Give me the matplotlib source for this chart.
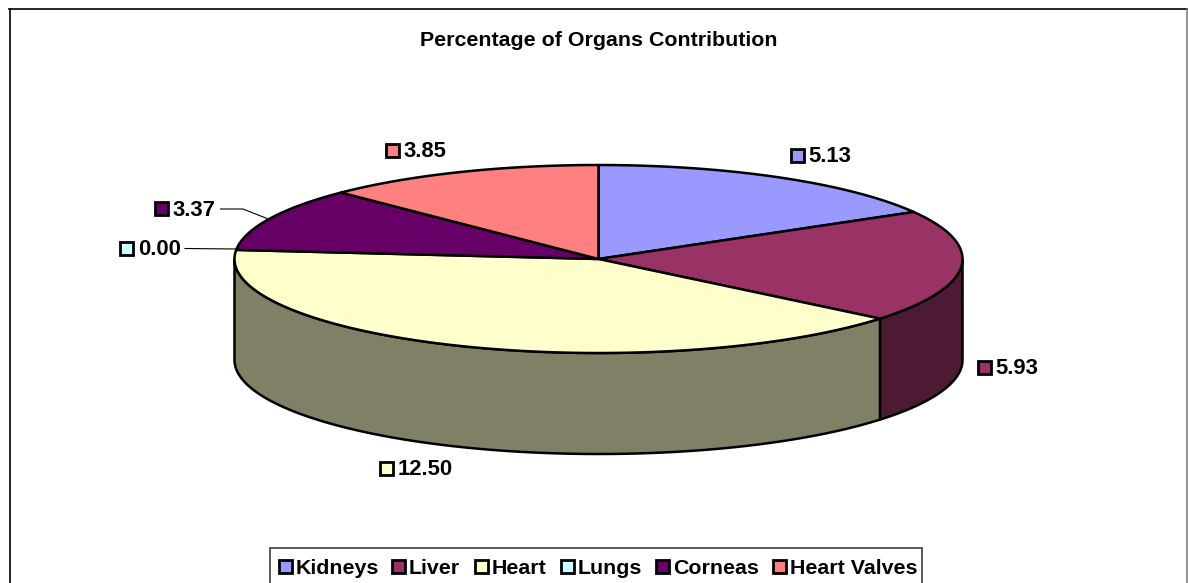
import matplotlib
matplotlib.use('Agg')
import matplotlib.pyplot as plt
from matplotlib.patches import Polygon, Rectangle
import numpy as np

plt.rcParams['font.family'] = ['Liberation Sans', 'DejaVu Sans']

organs = ['Kidneys', 'Liver', 'Heart', 'Lungs', 'Corneas', 'Heart Valves']
values = [5.13, 5.93, 12.50, 0.00, 3.37, 3.85]
top_colors = ['#9999FF', '#993366', '#FFFFCC', '#CCFFFF', '#660066', '#FF8080']
side_colors = ['#4C4C80', '#4D1A33', '#808066', '#668080', '#330033', '#804040']
title = 'Percentage of Organs Contribution'

# pie geometry in pixels
cx, cy = 598.5, 259
rx, ry = 364, 94
depth = 101

fig = plt.figure(figsize=(11.88, 5.83), dpi=100)
ax = fig.add_axes([0, 0, 1, 1])
ax.set_xlim(0, 1188)
ax.set_ylim(583, 0)
ax.axis('off')


def rim(a1, a2, dy=0):
    # angle counted clockwise from the top, in degrees
    t = np.radians(np.linspace(a1, a2, 200))
    return np.column_stack([cx + rx * np.sin(t), cy - ry * np.cos(t) + dy])


# chart frame
ax.plot([10, 10], [590, 9], color='black', lw=1.2)
ax.plot([9, 1187], [9, 9], color='black', lw=1.2)
ax.plot([1187, 1187], [9, 590], color='#808080', lw=1.2)

ax.text(599, 40.5, title, fontsize=15.4, fontweight='bold', ha='center', va='center')

angles = np.concatenate([[0], np.cumsum(values) / np.sum(values) * 360])

# sides first, only the front half is visible
for i in range(len(values)):
    a1 = max(angles[i], 90)
    a2 = min(angles[i + 1], 270)
    if a2 <= a1:
        continue
    front = rim(a1, a2)
    back = rim(a1, a2, depth)[::-1]
    ax.add_patch(Polygon(np.vstack([front, back]), closed=True, fc=side_colors[i],
                         ec='black', lw=1.8, joinstyle='round'))

# top faces
for i in range(len(values)):
    if values[i] == 0:
        continue
    pts = np.vstack([[cx, cy], rim(angles[i], angles[i + 1])])
    ax.add_patch(Polygon(pts, closed=True, fc=top_colors[i], ec='black', lw=1.8,
                         joinstyle='round'))

# leader lines
ax.plot([220.5, 243, 267], [209, 209, 218.5], color='black', lw=0.8)
ax.plot([185, 236], [248.5, 249], color='black', lw=0.8)

# data labels: key box then value
label_pos = [(797, 155.5), (984, 367.5), (386, 468), (126.5, 248), (161, 208.5), (392, 150)]
for i in range(len(values)):
    x, y = label_pos[i]
    ax.add_patch(Rectangle((x - 6.5, y - 6.5), 13, 13, fc=top_colors[i], ec='black', lw=2))
    ax.text(x + 11.5, y + 1.5, '%.2f' % values[i], fontsize=15.8, fontweight='bold',
            ha='left', va='center')

# legend
ax.add_patch(Rectangle((270, 548), 652, 50, fc='white', ec='#404040', lw=1.2, clip_on=True))
legend_x = [285, 398, 481, 567, 662.5, 779]
for i in range(len(organs)):
    x = legend_x[i]
    ax.add_patch(Rectangle((x - 6.5, 560), 13, 13, fc=top_colors[i], ec='black', lw=2))
    ax.text(x + 11, 568.5, organs[i], fontsize=15.4, fontweight='bold', ha='left', va='center')

fig.savefig('out.png', dpi=100)
